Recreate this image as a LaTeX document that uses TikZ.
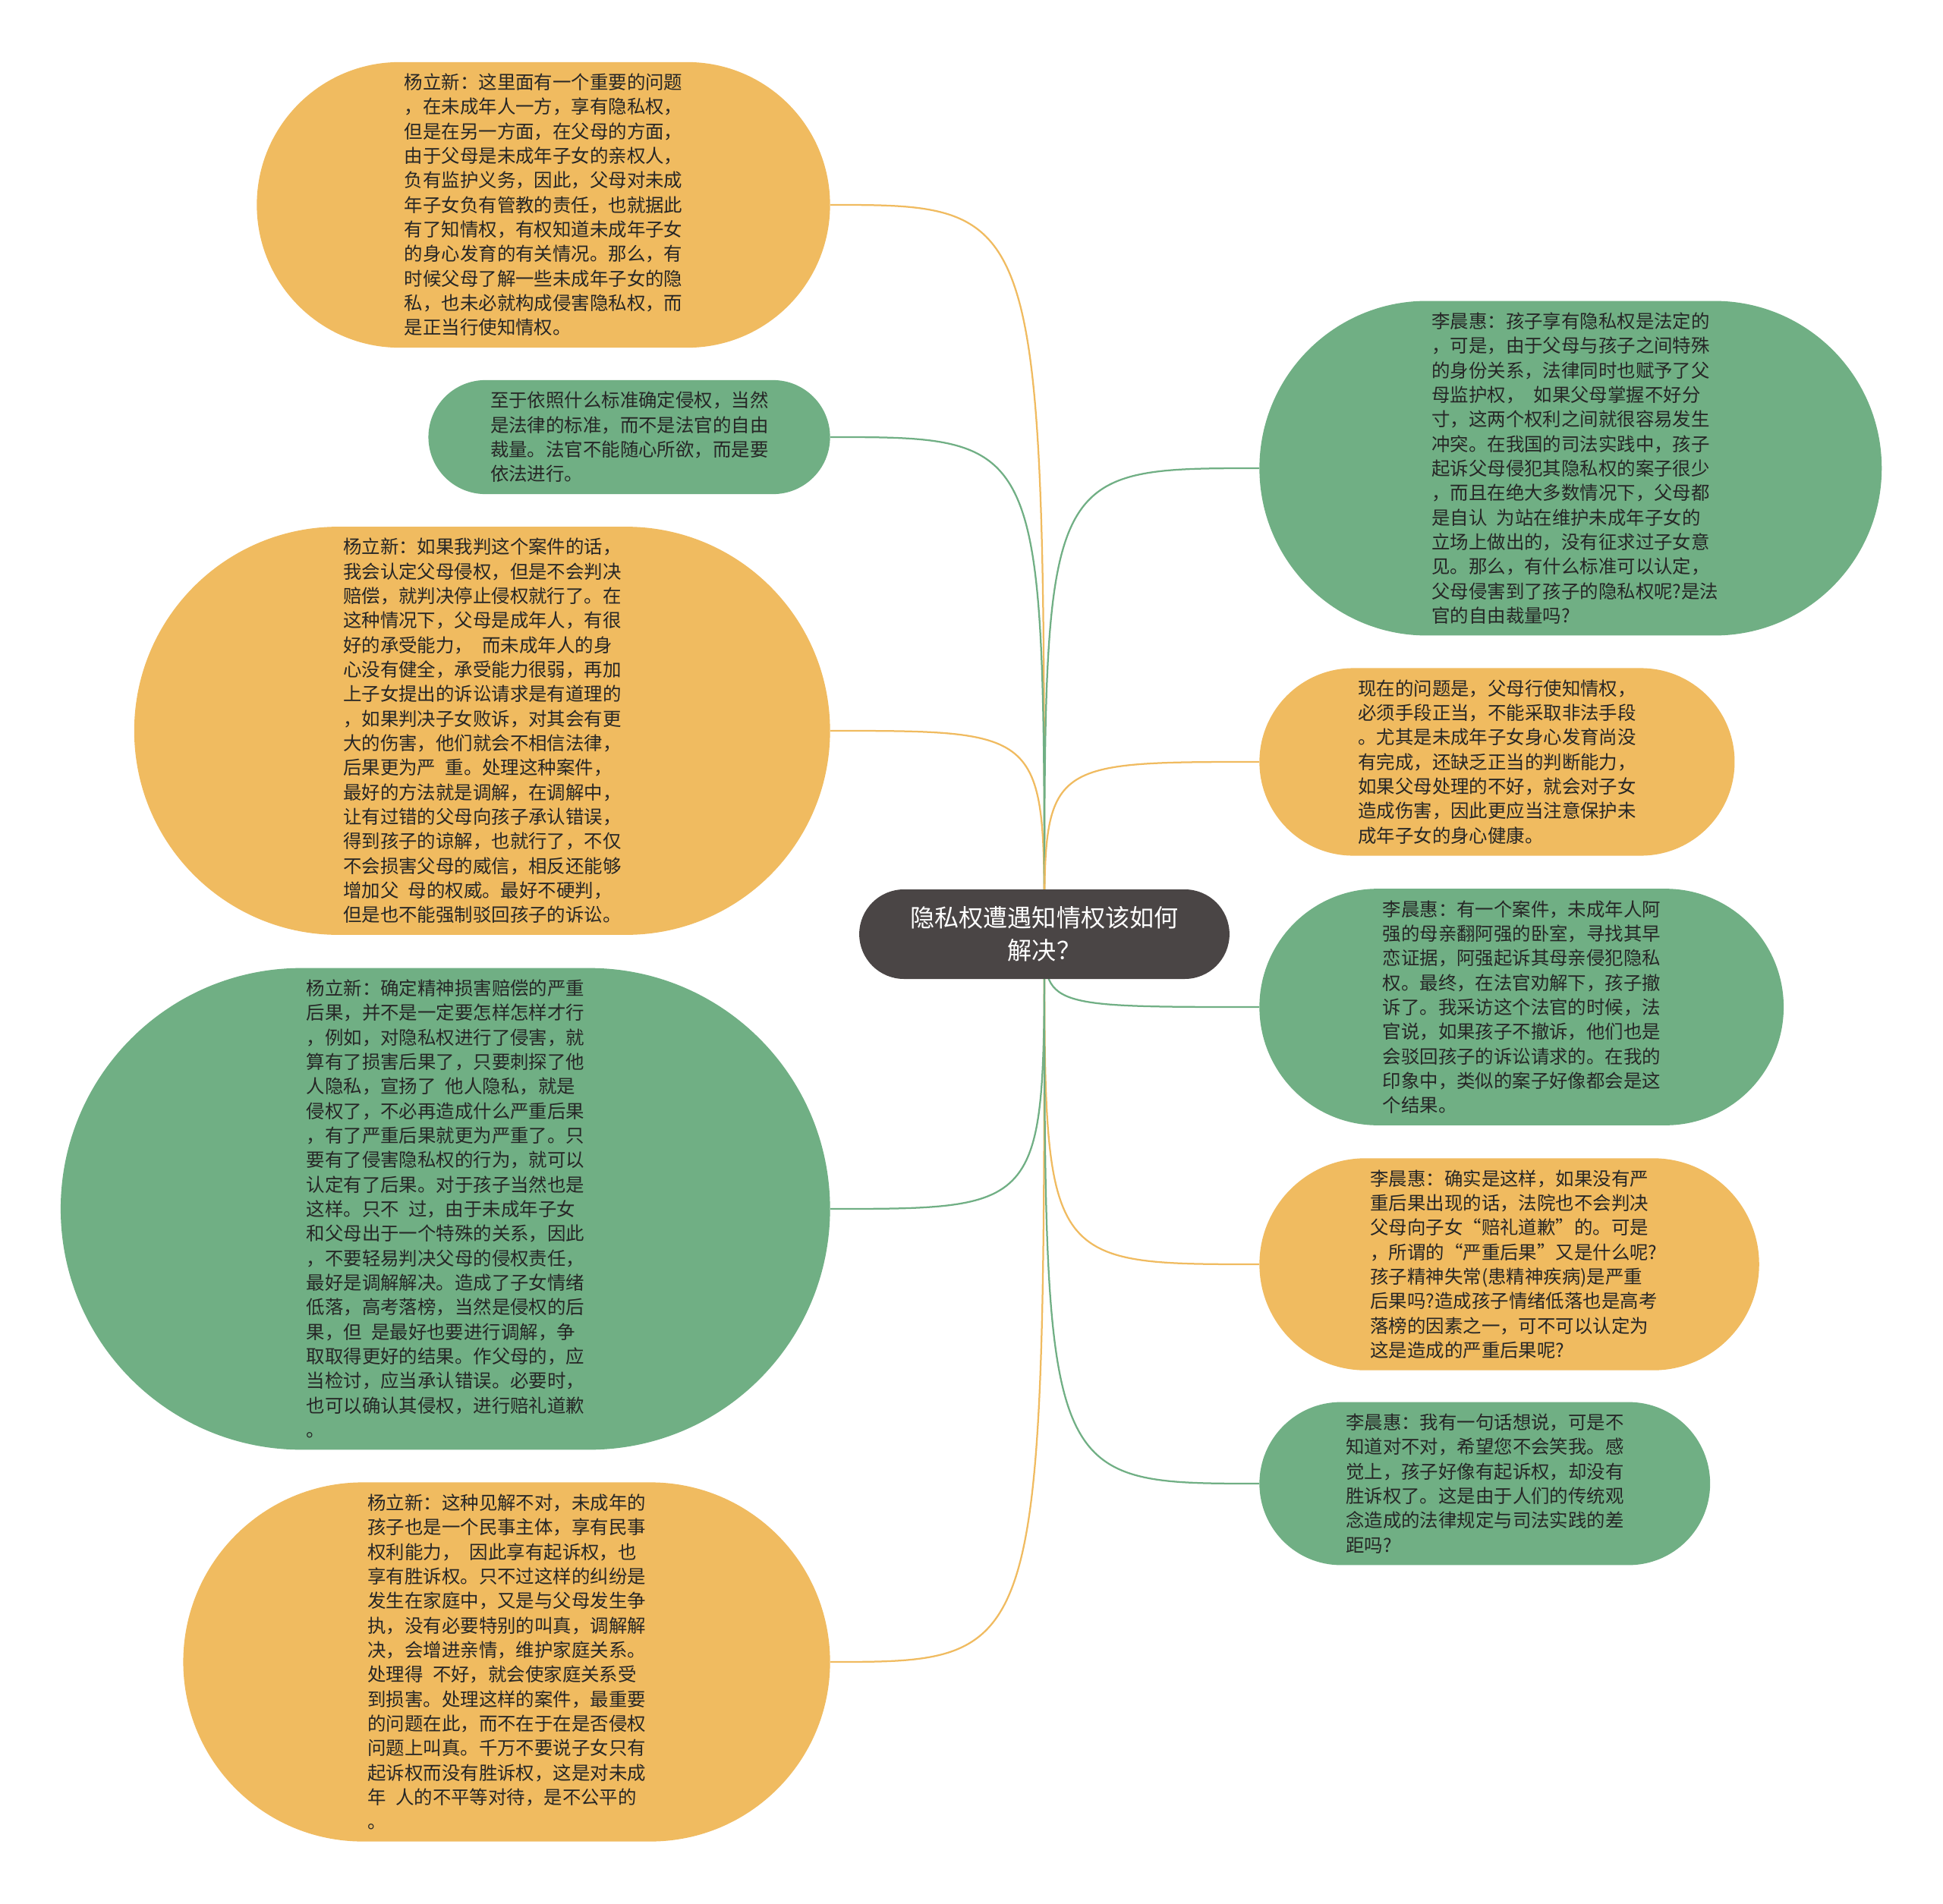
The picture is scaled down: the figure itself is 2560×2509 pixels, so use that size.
\documentclass[tikz,border=0pt]{standalone}
\usepackage{fontspec}
\setmainfont{Noto Sans CJK SC}
\usetikzlibrary{shapes.misc, backgrounds}

\definecolor{bubbleorange}{RGB}{240,187,96}
\definecolor{bubblegreen}{RGB}{112,175,132}
\definecolor{hubgray}{RGB}{74,69,69}
\definecolor{inktext}{RGB}{38,38,38}

\begin{document}
\begin{tikzpicture}[x=0.2mm, y=-0.2mm,
    bubble/.style={rounded rectangle, text width=73.2mm, align=left,
        inner xsep=1.1mm, inner ysep=0pt, text=inktext,
        font=\fontsize{13.9}{18.4}\selectfont},
    rows/.style={minimum height=#1*6.46mm+4.2mm, minimum width=#1*6.46mm+82.2mm},
    obubble/.style={bubble, fill=bubbleorange},
    gbubble/.style={bubble, fill=bubblegreen},
    hub/.style={rounded rectangle, fill=hubgray, text=white, align=center,
        minimum width=99.9mm, minimum height=23.6mm,
        font=\fontsize{18.3}{24.2}\selectfont},
    olink/.style={draw=bubbleorange, line width=0.45mm},
    glink/.style={draw=bubblegreen, line width=0.45mm}]
    \useasboundingbox (0,0) rectangle (2560,2509);

    \node[hub] (hub) at (1376,1231) {隐私权遭遇知情权该如何\\解决？};

    % left side
    \node[obubble, rows=11, anchor=east] (yangA) at (1094,270) {杨立新：这里面有一个重要的问题\\，在未成年人一方，享有隐私权，\\但是在另一方面，在父母的方面，\\由于父母是未成年子女的亲权人，\\负有监护义务，因此，父母对未成\\年子女负有管教的责任，也就据此\\有了知情权，有权知道未成年子女\\的身心发育的有关情况。那么，有\\时候父母了解一些未成年子女的隐\\私，也未必就构成侵害隐私权，而\\是正当行使知情权。};
    \node[gbubble, rows=4, anchor=east] (standard) at (1094,576) {至于依照什么标准确定侵权，当然\\是法律的标准，而不是法官的自由\\裁量。法官不能随心所欲，而是要\\依法进行。};
    \node[obubble, rows=16, anchor=east] (yangB) at (1094,963) {杨立新：如果我判这个案件的话，\\我会认定父母侵权，但是不会判决\\赔偿，就判决停止侵权就行了。在\\这种情况下，父母是成年人，有很\\好的承受能力，\enspace 而未成年人的身\\心没有健全，承受能力很弱，再加\\上子女提出的诉讼请求是有道理的\\，如果判决子女败诉，对其会有更\\大的伤害，他们就会不相信法律，\\后果更为严\enspace 重。处理这种案件，\\最好的方法就是调解，在调解中，\\让有过错的父母向孩子承认错误，\\得到孩子的谅解，也就行了，不仅\\不会损害父母的威信，相反还能够\\增加父\enspace 母的权威。最好不硬判，\\但是也不能强制驳回孩子的诉讼。};
    \node[gbubble, rows=19, anchor=east] (yangC) at (1094,1593) {杨立新：确定精神损害赔偿的严重\\后果，并不是一定要怎样怎样才行\\，例如，对隐私权进行了侵害，就\\算有了损害后果了，只要刺探了他\\人隐私，宣扬了\enspace 他人隐私，就是\\侵权了，不必再造成什么严重后果\\，有了严重后果就更为严重了。只\\要有了侵害隐私权的行为，就可以\\认定有了后果。对于孩子当然也是\\这样。只不\enspace 过，由于未成年子女\\和父母出于一个特殊的关系，因此\\，不要轻易判决父母的侵权责任，\\最好是调解解决。造成了子女情绪\\低落，高考落榜，当然是侵权的后\\果，但\enspace 是最好也要进行调解，争\\取取得更好的结果。作父母的，应\\当检讨，应当承认错误。必要时，\\也可以确认其侵权，进行赔礼道歉\\。};
    \node[obubble, rows=14, anchor=east] (yangD) at (1094,2190) {杨立新：这种见解不对，未成年的\\孩子也是一个民事主体，享有民事\\权利能力，\enspace 因此享有起诉权，也\\享有胜诉权。只不过这样的纠纷是\\发生在家庭中，又是与父母发生争\\执，没有必要特别的叫真，调解解\\决，会增进亲情，维护家庭关系。\\处理得\enspace 不好，就会使家庭关系受\\到损害。处理这样的案件，最重要\\的问题在此，而不在于在是否侵权\\问题上叫真。千万不要说子女只有\\起诉权而没有胜诉权，这是对未成\\年\enspace 人的不平等对待，是不公平的\\。};

    % right side
    \node[gbubble, rows=13, anchor=west] (liA) at (1659,617) {李晨惠：孩子享有隐私权是法定的\\，可是，由于父母与孩子之间特殊\\的身份关系，法律同时也赋予了父\\母监护权，\enspace 如果父母掌握不好分\\寸，这两个权利之间就很容易发生\\冲突。在我国的司法实践中，孩子\\起诉父母侵犯其隐私权的案子很少\\，而且在绝大多数情况下，父母都\\是自认\enspace 为站在维护未成年子女的\\立场上做出的，没有征求过子女意\\见。那么，有什么标准可以认定，\\父母侵害到了孩子的隐私权呢?是法\\官的自由裁量吗?};
    \node[obubble, rows=7, anchor=west] (method) at (1659,1004) {现在的问题是，父母行使知情权，\\必须手段正当，不能采取非法手段\\。尤其是未成年子女身心发育尚没\\有完成，还缺乏正当的判断能力，\\如果父母处理的不好，就会对子女\\造成伤害，因此更应当注意保护未\\成年子女的身心健康。};
    \node[gbubble, rows=9, anchor=west] (liB) at (1659,1327) {李晨惠：有一个案件，未成年人阿\\强的母亲翻阿强的卧室，寻找其早\\恋证据，阿强起诉其母亲侵犯隐私\\权。最终，在法官劝解下，孩子撤\\诉了。我采访这个法官的时候，法\\官说，如果孩子不撤诉，他们也是\\会驳回孩子的诉讼请求的。在我的\\印象中，类似的案子好像都会是这\\个结果。};
    \node[obubble, rows=8, anchor=west] (liC) at (1659,1666) {李晨惠：确实是这样，如果没有严\\重后果出现的话，法院也不会判决\\父母向子女“赔礼道歉”的。可是\\，所谓的“严重后果”又是什么呢?\\孩子精神失常(患精神疾病)是严重\\后果吗?造成孩子情绪低落也是高考\\落榜的因素之一，可不可以认定为\\这是造成的严重后果呢?};
    \node[gbubble, rows=6, anchor=west] (liD) at (1659,1955) {李晨惠：我有一句话想说，可是不\\知道对不对，希望您不会笑我。感\\觉上，孩子好像有起诉权，却没有\\胜诉权了。这是由于人们的传统观\\念造成的法律规定与司法实践的差\\距吗?};

    \begin{pgfonlayer}{background}
        \fill[white] (0,0) rectangle (2560,2509);
        \draw[olink] (hub.center) .. controls (hub.center |- yangA.east) .. (yangA.east);
        \draw[glink] (hub.center) .. controls (hub.center |- standard.east) .. (standard.east);
        \draw[olink] (hub.center) .. controls (hub.center |- yangB.east) .. (yangB.east);
        \draw[glink] (hub.center) .. controls (hub.center |- yangC.east) .. (yangC.east);
        \draw[olink] (hub.center) .. controls (hub.center |- yangD.east) .. (yangD.east);
        \draw[glink] (hub.center) .. controls (hub.center |- liA.west) .. (liA.west);
        \draw[olink] (hub.center) .. controls (hub.center |- method.west) .. (method.west);
        \draw[glink] (hub.center) .. controls (hub.center |- liB.west) .. (liB.west);
        \draw[olink] (hub.center) .. controls (hub.center |- liC.west) .. (liC.west);
        \draw[glink] (hub.center) .. controls (hub.center |- liD.west) .. (liD.west);
    \end{pgfonlayer}
\end{tikzpicture}
\end{document}
